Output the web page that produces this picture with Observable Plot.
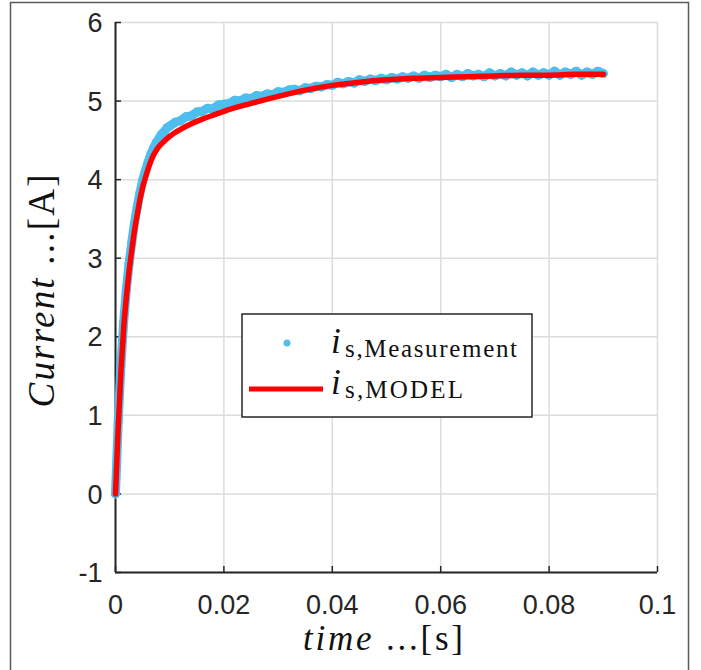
<!DOCTYPE html>
<html><head><meta charset="utf-8">
<script src="https://cdn.jsdelivr.net/npm/d3@7"></script>
<script src="https://cdn.jsdelivr.net/npm/@observablehq/plot@0.6"></script>
<style>body{margin:0;background:#fff} svg{display:block}</style>
</head><body><div id="chart"></div>
<script>
// ---- data ----
const modelTime = [0,0.0005,0.001,0.0015,0.002,0.0025,0.003,0.0035,0.004,0.0045,0.005,0.0055,0.006,0.0065,0.007,0.0075,0.008,0.009,0.010,0.011,0.012,0.014,0.016,0.018,0.020,0.025,0.030,0.035,0.040,0.045,0.050,0.055,0.060,0.065,0.070,0.075,0.080,0.085,0.090];
const modelCurrent = [0,0.85,1.55,2.1,2.5,2.83,3.1,3.35,3.55,3.74,3.9,4.02,4.13,4.23,4.31,4.37,4.42,4.49,4.55,4.60,4.64,4.71,4.77,4.82,4.87,4.97,5.06,5.14,5.20,5.24,5.27,5.29,5.30,5.31,5.32,5.33,5.33,5.34,5.34];
const measTime = [0,0.0005,0.001,0.0015,0.002,0.0025,0.003,0.0035,0.004,0.0045,0.005,0.0055,0.006,0.0065,0.007,0.0075,0.008,0.0085,0.009,0.0095,
  0.010,0.011,0.012,0.013,0.014,0.015,0.016,0.017,0.018,0.019,0.020,0.021,0.022,0.023,0.024,0.025,0.026,0.027,0.028,0.029,
  0.030,0.031,0.032,0.033,0.034,0.035,0.036,0.037,0.038,0.039,0.040,0.041,0.042,0.043,0.044,0.045,0.046,0.047,0.048,0.049,
  0.050,0.051,0.052,0.053,0.054,0.055,0.056,0.057,0.058,0.059,0.060,0.061,0.062,0.063,0.064,0.065,0.066,0.067,0.068,0.069,
  0.070,0.071,0.072,0.073,0.074,0.075,0.076,0.077,0.078,0.079,0.080,0.081,0.082,0.083,0.084,0.085,0.086,0.087,0.088,0.089,0.090];
const measCurrent = [0.0,0.92,1.63,2.18,2.6,2.93,3.2,3.45,3.65,3.83,3.99,4.11,4.22,4.32,4.40,4.47,4.52,4.58,4.61,4.66,
  4.68,4.73,4.75,4.80,4.81,4.86,4.87,4.91,4.90,4.95,4.96,4.97,5.01,5.00,5.04,5.03,5.07,5.06,5.09,5.08,
  5.12,5.11,5.14,5.15,5.13,5.17,5.16,5.19,5.18,5.21,5.20,5.24,5.22,5.25,5.23,5.27,5.25,5.28,5.26,5.29,
  5.27,5.30,5.28,5.31,5.29,5.32,5.29,5.33,5.30,5.33,5.31,5.34,5.30,5.34,5.31,5.35,5.32,5.34,5.31,5.36,
  5.32,5.35,5.32,5.37,5.33,5.36,5.32,5.37,5.33,5.36,5.33,5.38,5.33,5.37,5.34,5.38,5.33,5.37,5.34,5.38,5.35];
const xTicks = [0,0.02,0.04,0.06,0.08,0.1];
const xTickLabels = ["0","0.02","0.04","0.06","0.08","0.1"];
const yTicks = [-1,0,1,2,3,4,5,6];
const yTickLabels = ["-1","0","1","2","3","4","5","6"];
const seriesNames = ["s,Measurement","s,MODEL"];
const xLabelParts = ["time", " ...[s]"];
const yLabelParts = ["Current", " ...[A]"];

const measColor = "#4DBEEE", modelColor = "#FF0000", ink = "#262626";
const meas = measTime.map((t,i)=>({t, v: measCurrent[i]}));
const model = modelTime.map((t,i)=>({t, v: modelCurrent[i]}));

const svg = Plot.plot({
  width: 701, height: 670,
  marginLeft: 115, marginRight: 44, marginTop: 22, marginBottom: 98,
  x: {domain: [0, 0.1]},
  y: {domain: [-1, 6]},
  style: {fontFamily: "'Liberation Sans', Arial, sans-serif", fontSize: "27px", color: ink, background: "white", overflow: "visible"},
  marks: [
    Plot.gridX(xTicks, {stroke: "#dcdcdc", strokeOpacity: 1, strokeWidth: 1.5}),
    Plot.gridY(yTicks, {stroke: "#dcdcdc", strokeOpacity: 1, strokeWidth: 1.5}),
    Plot.axisX(xTicks, {tickSize: 0, tickPadding: 22, fontSize: 27, label: null, fill: ink, tickFormat: d => xTickLabels[xTicks.indexOf(d)]}),
    Plot.axisX(xTicks, {text: null, tickSize: 6, dy: -6, label: null, stroke: ink, strokeWidth: 1.5}),
    Plot.axisY(yTicks, {tickSize: 0, tickPadding: 13, dy: 1, fontSize: 27, label: null, fill: ink, tickFormat: d => yTickLabels[yTicks.indexOf(d)]}),
    Plot.axisY(yTicks, {text: null, tickSize: 6, dx: 6, label: null, stroke: ink, strokeWidth: 1.5}),
    Plot.ruleX([0], {stroke: ink, strokeWidth: 2}),
    Plot.ruleY([-1], {stroke: ink, strokeWidth: 2}),
    Plot.line(meas, {x: "t", y: "v", stroke: measColor, strokeWidth: 9, strokeLinecap: "round", strokeLinejoin: "round"}),
    Plot.dot(meas, {x: "t", y: "v", r: 4.5, fill: measColor, stroke: null}),
    Plot.line(model, {x: "t", y: "v", stroke: modelColor, strokeWidth: 5.5, curve: "monotone-x"})
  ]
});

const s = d3.select(svg);
// enforce tick label size
s.selectAll('g[aria-label="x-axis tick label"], g[aria-label="y-axis tick label"]')
  .attr("font-size", 27).style("font-size", "27px")
  .selectAll("text").style("font-size", "27px");

// figure frame
s.append("rect").attr("x", 10.5).attr("y", 2.5).attr("width", 678).attr("height", 720)
  .attr("fill", "none").attr("stroke", "#5a5a5a").attr("stroke-width", 1.5);

const serif = "'Liberation Serif', 'Times New Roman', serif";
// x label
const xl = s.append("text").attr("x", 383).attr("y", 650).attr("text-anchor", "middle")
  .attr("font-family", serif).attr("font-size", 35).attr("fill", "#111")
  .attr("textLength", 160).attr("lengthAdjust", "spacing");
xl.append("tspan").attr("font-style", "italic").text(xLabelParts[0]);
xl.append("tspan").text(xLabelParts[1]);
// y label
const yl = s.append("text").attr("transform", "translate(54,291) rotate(-90)").attr("text-anchor", "middle")
  .attr("font-family", serif).attr("font-size", 37).attr("fill", "#111")
  .attr("textLength", 233).attr("lengthAdjust", "spacing");
yl.append("tspan").attr("font-style", "italic").text(yLabelParts[0]);
yl.append("tspan").text(yLabelParts[1]);

// legend
const lg = s.append("g").attr("text-anchor", "start");
lg.append("rect").attr("x", 242).attr("y", 314).attr("width", 290).attr("height", 103)
  .attr("fill", "white").attr("stroke", ink).attr("stroke-width", 1.5);
lg.append("circle").attr("cx", 287).attr("cy", 343).attr("r", 3.5).attr("fill", measColor);
lg.append("line").attr("x1", 249).attr("x2", 323).attr("y1", 389).attr("y2", 389)
  .attr("stroke", modelColor).attr("stroke-width", 5);
const entries = [{y: 353, sub: seriesNames[0], w: 172}, {y: 394, sub: seriesNames[1], w: 118}];
entries.forEach(e => {
  lg.append("text").attr("x", 331).attr("y", e.y).attr("text-anchor", "start").attr("font-family", serif).attr("font-style", "italic")
    .attr("font-size", 35).attr("fill", "#111").text("i");
  lg.append("text").attr("x", 345).attr("y", e.y + 4).attr("text-anchor", "start").attr("font-family", serif)
    .attr("font-size", 25).attr("fill", "#111").attr("textLength", e.w).attr("lengthAdjust", "spacing").text(e.sub);
});

document.getElementById("chart").appendChild(svg);
</script>
</body></html>
